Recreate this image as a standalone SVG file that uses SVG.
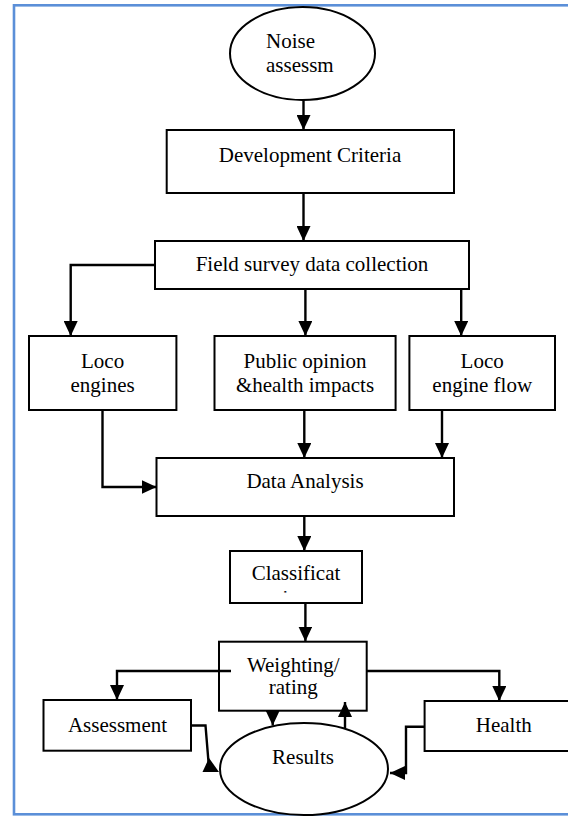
<svg xmlns="http://www.w3.org/2000/svg" width="568" height="816" viewBox="0 0 568 816">
<style>
.box{fill:#fff;stroke:#000;stroke-width:2}
.t{font-family:"Liberation Serif","Times New Roman",serif;font-size:21px;fill:#000;text-anchor:middle}
.c{fill:none;stroke:#000;stroke-width:2.4}
</style>
<defs>
<marker id="ah" markerUnits="userSpaceOnUse" markerWidth="16" markerHeight="14" refX="15" refY="7" orient="auto">
<path d="M0,0 L15,7 L0,14 z" fill="#000"/>
</marker>
<clipPath id="clipClass"><rect x="230" y="551" width="132" height="41.5"/></clipPath>
</defs>
<rect x="14" y="5.3" width="580" height="809" fill="#fff" stroke="#5b8fd8" stroke-width="2.6"/>
<g id="noise">
<ellipse cx="302.5" cy="53.5" rx="72.5" ry="46.5" class="box"/>
<text class="t" x="266" y="48" style="text-anchor:start">Noise</text>
<text class="t" x="266" y="72" style="text-anchor:start">assessm</text>
</g>
<g id="development">
<rect class="box" x="166.7" y="130" width="287.3" height="63"/>
<text class="t" x="310" y="162">Development Criteria</text>
</g>
<g id="field">
<rect class="box" x="155" y="241" width="314" height="48"/>
<text class="t" x="312" y="271">Field survey data collection</text>
</g>
<g id="loco">
<rect class="box" x="29" y="336" width="147.4" height="74"/>
<text class="t" x="102.6" y="368">Loco</text>
<text class="t" x="102.6" y="392">engines</text>
</g>
<g id="public">
<rect class="box" x="214.5" y="336" width="181.1" height="74"/>
<text class="t" x="305" y="368">Public opinion</text>
<text class="t" x="305" y="392">&amp;health impacts</text>
</g>
<g id="flow">
<rect class="box" x="409.4" y="336" width="145.6" height="74"/>
<text class="t" x="482.2" y="368">Loco</text>
<text class="t" x="482.2" y="392">engine flow</text>
</g>
<g id="analysis">
<rect class="box" x="156.5" y="458" width="297.5" height="58"/>
<text class="t" x="305" y="488">Data Analysis</text>
</g>
<g id="classification">
<rect class="box" x="230" y="551" width="132" height="52"/>
<text class="t" x="296" y="580">Classificat</text>
<text class="t" x="296" y="605" clip-path="url(#clipClass)">ion</text>
</g>
<g id="weighting">
<rect class="box" x="219" y="641.7" width="147.7" height="69"/>
<text class="t" x="293.3" y="671.7">Weighting/</text>
<text class="t" x="293.3" y="694">rating</text>
</g>
<g id="assessment">
<rect class="box" x="43.5" y="700" width="147.5" height="50.7"/>
<text class="t" x="117.5" y="731.7">Assessment</text>
</g>
<g id="health">
<rect class="box" x="424.6" y="701" width="170" height="50"/>
<text class="t" x="503.8" y="731.7">Health</text>
</g>
<g id="results">
<ellipse cx="304" cy="769" rx="84" ry="46" class="box"/>
<text class="t" x="303" y="764">Results</text>
</g>
<g id="connectors">
<path class="c" d="M303.5,100 V130" marker-end="url(#ah)"/>
<path class="c" d="M303.5,193 V241" marker-end="url(#ah)"/>
<path class="c" d="M155,265 H70.7 V336" marker-end="url(#ah)"/>
<path class="c" d="M305.4,289 V336" marker-end="url(#ah)"/>
<path class="c" d="M461.2,289 V336" marker-end="url(#ah)"/>
<path class="c" d="M102.5,410 V487 H156.5" marker-end="url(#ah)"/>
<path class="c" d="M304.3,410 V458" marker-end="url(#ah)"/>
<path class="c" d="M442,410 V458" marker-end="url(#ah)"/>
<path class="c" d="M304.3,516 V551" marker-end="url(#ah)"/>
<path class="c" d="M305.4,603 V641.5" marker-end="url(#ah)"/>
<path class="c" d="M231,671 H117 V700" marker-end="url(#ah)"/>
<path class="c" d="M366.7,671 H499.3 V701" marker-end="url(#ah)"/>
<path class="c" d="M272.7,710.7 V725.5" marker-end="url(#ah)"/>
<path class="c" d="M345,728 V702" marker-end="url(#ah)"/>
<path class="c" d="M191,725.5 H205.5 L208.5,762"/>
<polygon points="202.5,772 219,772 209,758" fill="#000"/>
<path class="c" d="M425,726.7 H406 V773 H390" marker-end="url(#ah)"/>
</g>
</svg>
